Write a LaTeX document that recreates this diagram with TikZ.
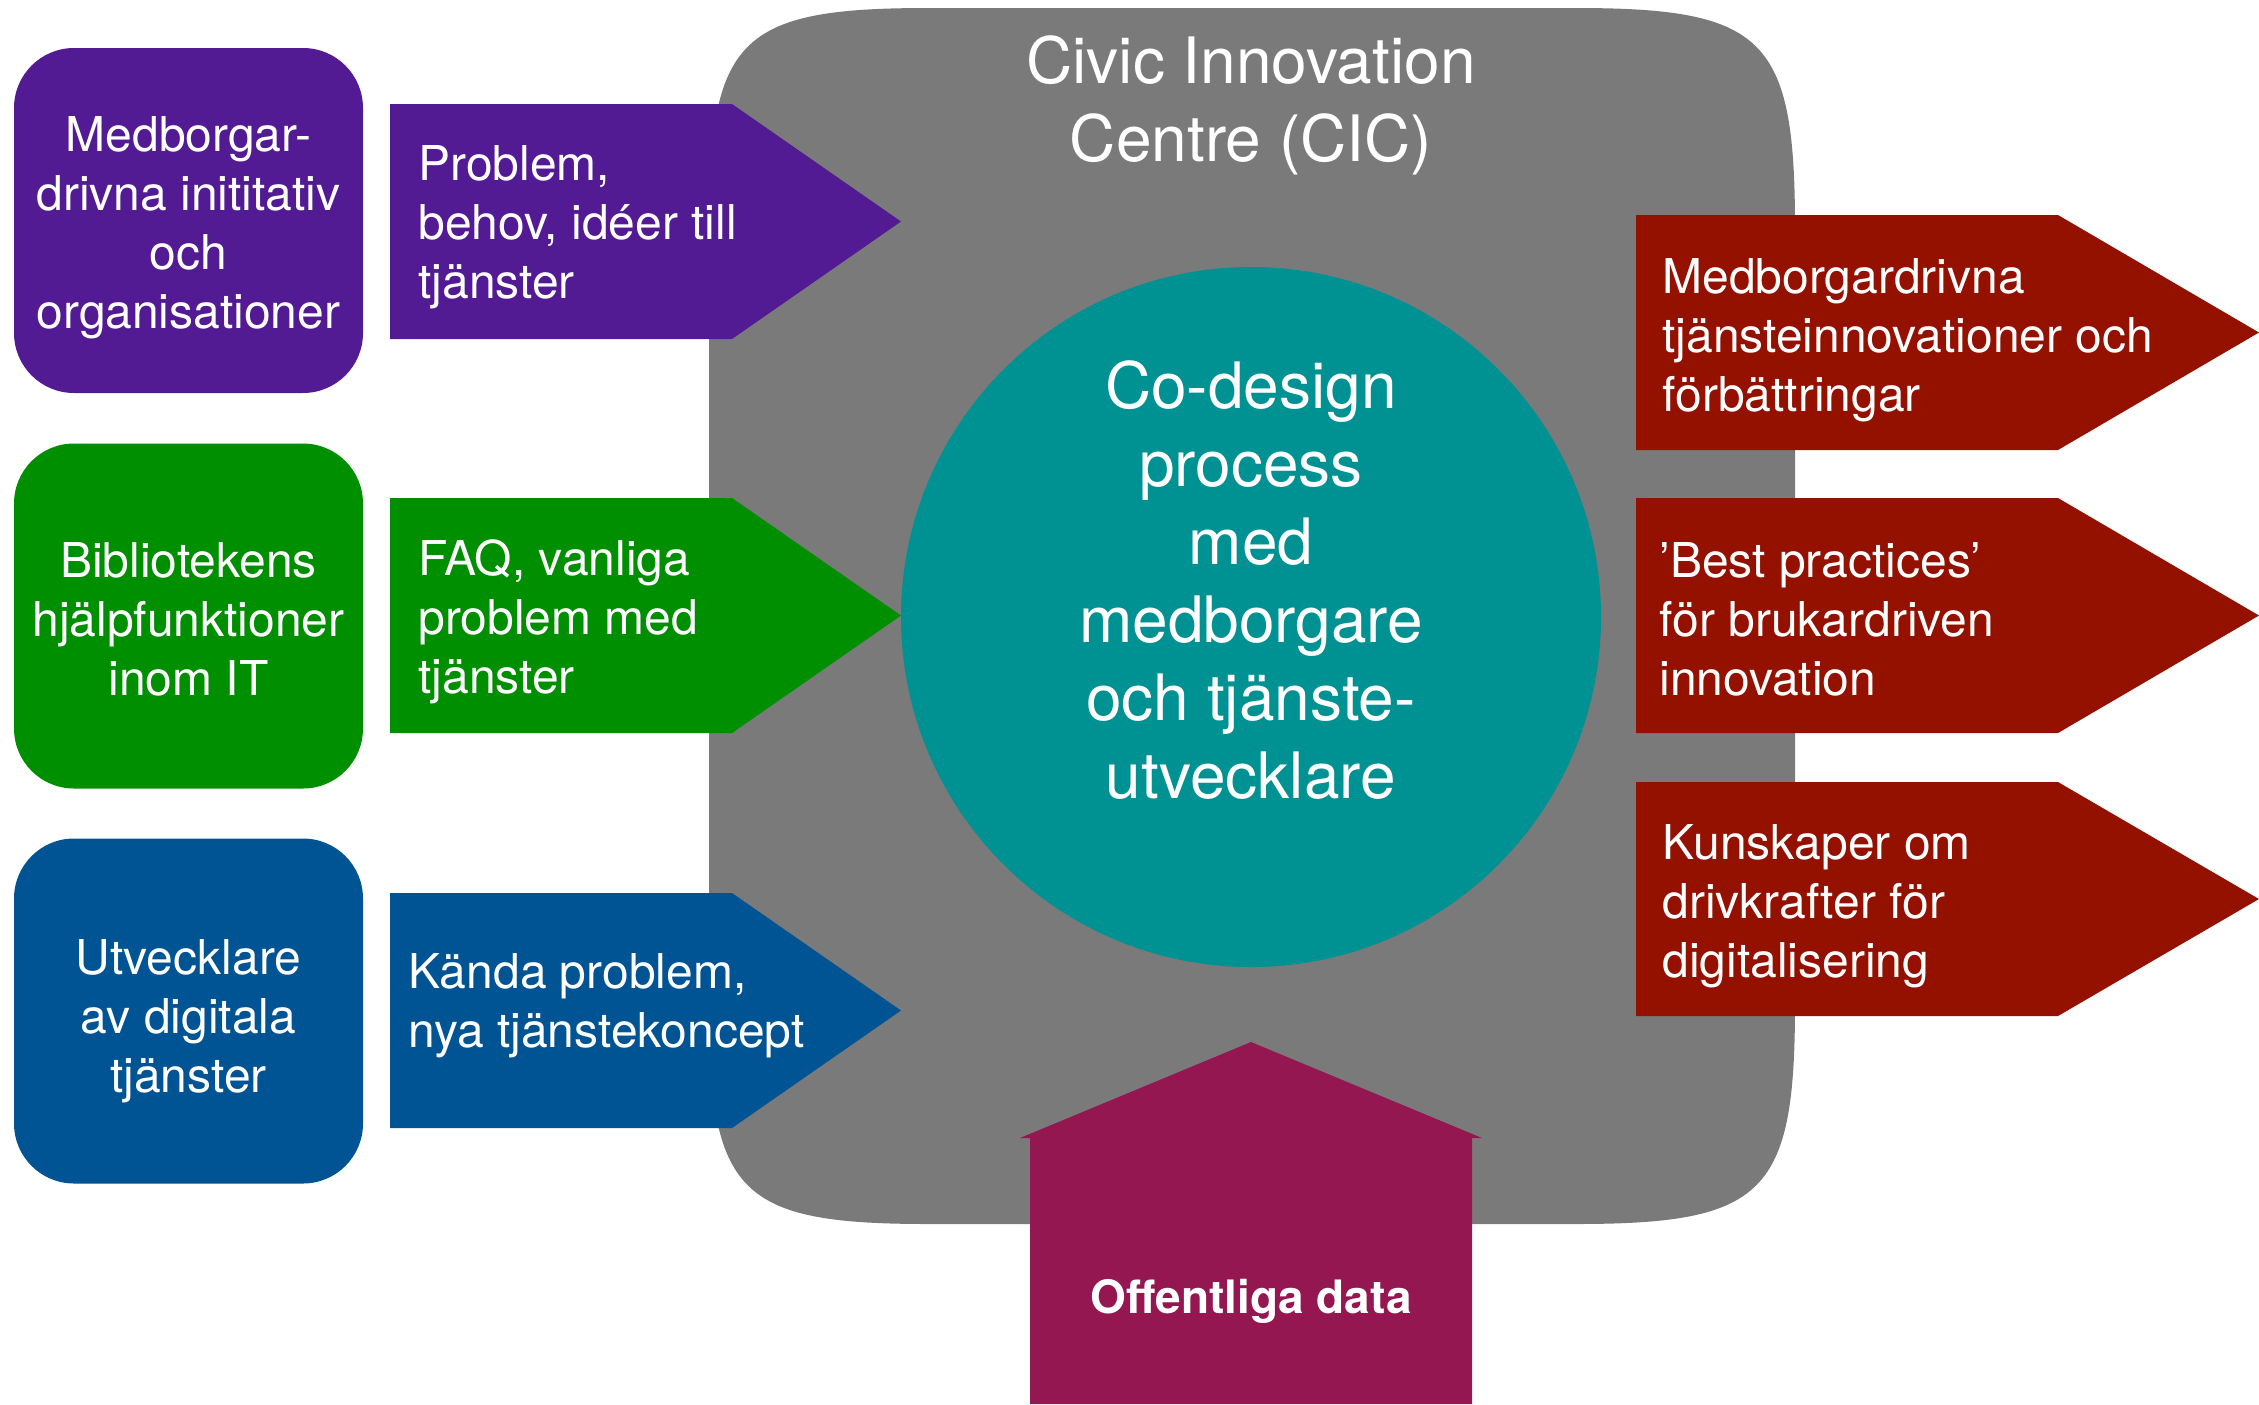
\documentclass[tikz,border=0pt]{standalone}
\usepackage{fontspec}
\setmainfont{TeX Gyre Heros}
\definecolor{cgrape}{HTML}{531B93}
\definecolor{cclover}{HTML}{008F00}
\definecolor{cocean}{HTML}{005493}
\definecolor{csteel}{HTML}{7A7A7A}
\definecolor{cteal}{HTML}{009193}
\definecolor{ccayenne}{HTML}{941100}
\definecolor{cmaroon}{HTML}{941751}
\begin{document}
\begin{tikzpicture}[x=0.5pt,y=-0.5pt,
  srcbox/.style={rectangle, rounded corners=30pt, minimum width=174.5pt, minimum height=172.5pt, inner sep=0pt},
  srctext/.style={inner sep=0pt, text=white, align=center, font=\fontsize{24}{29.5}\selectfont},
  arrtext/.style={anchor=west, inner sep=0pt, text=white, align=left, font=\fontsize{24}{29.5}\selectfont},
  bigtext/.style={inner sep=0pt, text=white, align=center, font=\fontsize{32}{39}\selectfont}]
\useasboundingbox (0,0) rectangle (2259,1404);
% CIC background
\fill[csteel] (929,8) -- (1575,8) .. controls (1765,8) and (1795,38) .. (1795,228)
  -- (1795,1004) .. controls (1795,1194) and (1765,1224) .. (1575,1224)
  -- (929,1224) .. controls (739,1224) and (709,1194) .. (709,1004)
  -- (709,228) .. controls (709,38) and (739,8) .. (929,8) -- cycle;
\node[bigtext] (cic) at (1251,105) {Civic Innovation\\Centre (CIC)};
% core circle
\node[circle, fill=cteal, minimum size=350pt, inner sep=0pt] (core) at (1251,617) {};
\node[bigtext] (coretext) at (1251,580) {Co-design\\process\\med\\medborgare\\och tjänste-\\utvecklare};
% source boxes
\node[srcbox, fill=cgrape] (src1) at (188.5,220.5) {};
\node[srcbox, fill=cclover] (src2) at (188.5,616) {};
\node[srcbox, fill=cocean] (src3) at (188.5,1011) {};
\node[srctext] (src1t) at (188.5,228) {Medborgar-\\drivna inititativ\\och\\organisationer};
\node[srctext] (src2t) at (188.5,619) {Bibliotekens\\hjälpfunktioner\\inom IT};
\node[srctext] (src3t) at (188.5,1021) {Utvecklare\\av digitala\\tjänster};
% input arrows
\fill[cgrape] (390,104) -- (732,104) -- (901,221.5) -- (732,339) -- (390,339) -- cycle;
\fill[cclover] (390,498) -- (732,498) -- (901,615.5) -- (732,733) -- (390,733) -- cycle;
\fill[cocean] (390,893) -- (732,893) -- (901,1010.5) -- (732,1128) -- (390,1128) -- cycle;
\node[arrtext] (in1) at (418,227) {Problem,\\behov, idéer till\\tjänster};
\node[arrtext] (in2) at (418,622) {FAQ, vanliga\\problem med\\tjänster};
\node[arrtext] (in3) at (408,1006) {Kända problem,\\nya tjänstekoncept};
% output arrows
\fill[ccayenne] (1636,215) -- (2058,215) -- (2259,332.5) -- (2058,450) -- (1636,450) -- cycle;
\fill[ccayenne] (1636,498) -- (2058,498) -- (2259,615.5) -- (2058,733) -- (1636,733) -- cycle;
\fill[ccayenne] (1636,782) -- (2058,782) -- (2259,899) -- (2058,1016) -- (1636,1016) -- cycle;
\node[arrtext] (out1) at (1662,340) {Medborgardrivna\\tjänsteinnovationer och\\förbättringar};
\node[arrtext] (out2) at (1659,619) {’Best practices’\\för brukardriven\\innovation};
\node[arrtext] (out3) at (1662,906) {Kunskaper om\\drivkrafter för\\digitalisering};
% open data arrow
\fill[cmaroon] (1030,1404) -- (1030,1138) -- (1020,1138) -- (1251,1042) -- (1482,1138) -- (1472,1138) -- (1472,1404) -- cycle;
\node[inner sep=0pt, text=white, font=\bfseries\fontsize{23}{29.5}\selectfont] (data) at (1251,1301) {Offentliga data};
\end{tikzpicture}
\end{document}
